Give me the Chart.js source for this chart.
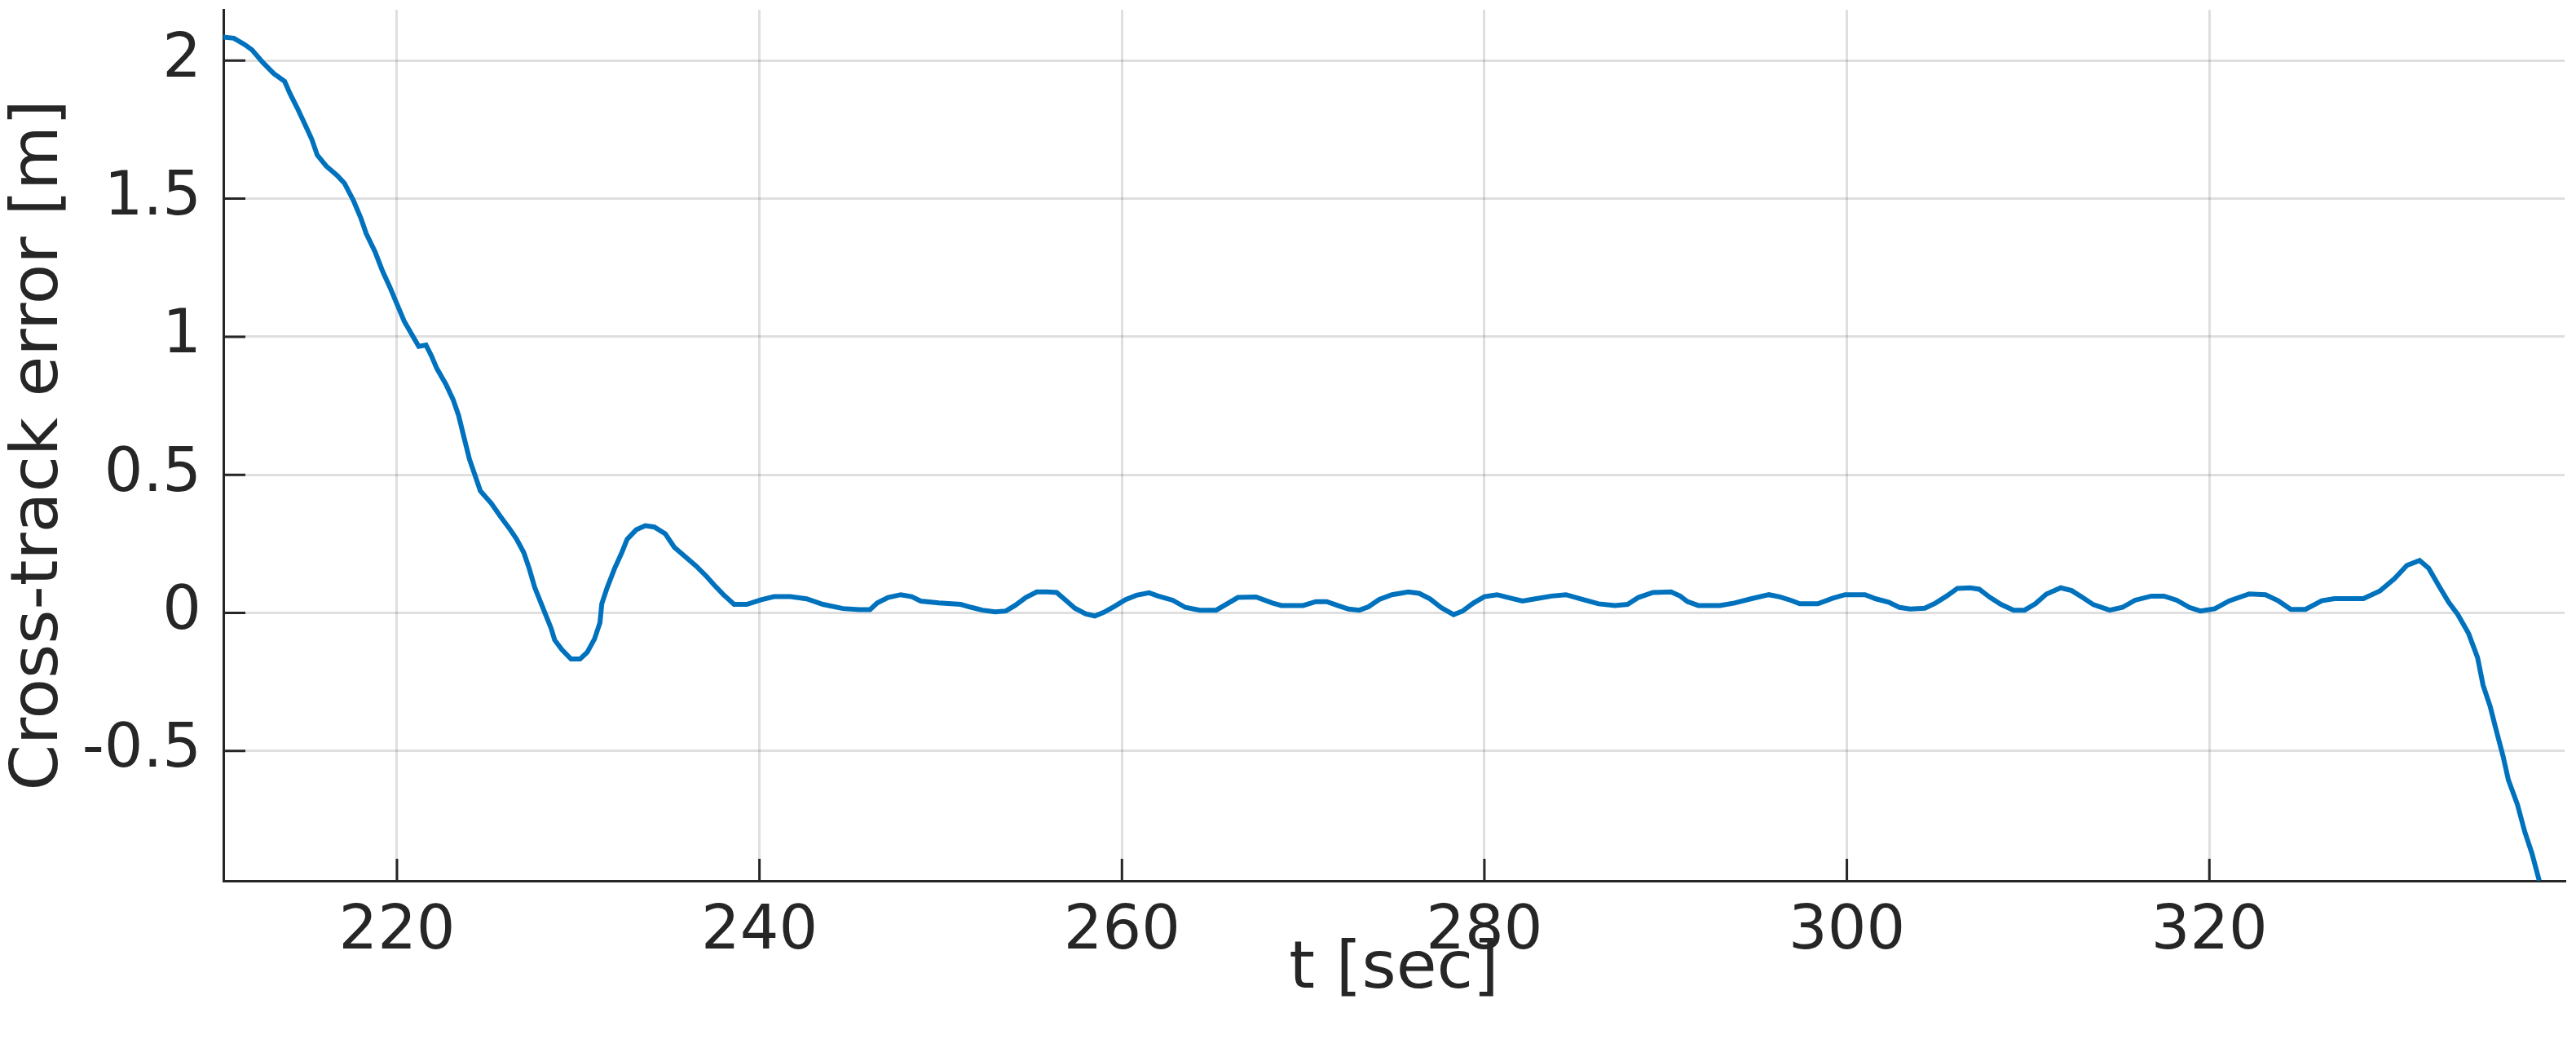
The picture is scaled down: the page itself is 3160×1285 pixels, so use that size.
<!DOCTYPE html>
<html>
<head>
<meta charset="utf-8">
<title>Cross-track error</title>
<script src="https://cdn.jsdelivr.net/npm/chart.js@4.4.1/dist/chart.umd.min.js"></script>
<style>
  html, body { margin: 0; padding: 0; background: #ffffff; }
  #wrap { width: 3160px; height: 1285px; }
</style>
</head>
<body>
<div id="wrap"><canvas id="cte" width="3160" height="1285"></canvas></div>
<script>
// time stamps [sec]
var timeSec = [
  210.4, 211.0, 211.6, 212.0, 212.6, 213.2, 213.8, 214.1, 214.5, 214.9,
  215.3, 215.6, 216.1, 216.7, 217.1, 217.6, 218.0, 218.3, 218.8, 219.2,
  219.6, 220.0, 220.4, 220.9, 221.2, 221.6, 221.9, 222.2, 222.7, 223.1,
  223.4, 223.7, 224.0, 224.3, 224.6, 225.2, 225.7, 226.2, 226.6, 227.0,
  227.3, 227.6, 227.9, 228.2, 228.5, 228.7, 229.1, 229.6, 230.1, 230.5,
  230.9, 231.2, 231.3, 231.6, 232.0, 232.4, 232.7, 233.2, 233.7, 234.2,
  234.8, 235.3, 235.9, 236.5, 237.1, 237.5, 238.0, 238.6, 239.3, 240.1,
  240.8, 241.7, 242.6, 243.5, 244.6, 245.5, 246.1, 246.5, 247.1, 247.8,
  248.4, 248.9, 249.9, 251.1, 251.7, 252.3, 253.0, 253.6, 254.1, 254.7,
  255.3, 255.9, 256.4, 256.9, 257.4, 258.0, 258.5, 259.0, 259.6, 260.2,
  260.8, 261.5, 262.0, 262.8, 263.5, 264.3, 265.2, 265.8, 266.4, 267.4,
  268.3, 268.8, 270.0, 270.7, 271.3, 271.9, 272.5, 273.1, 273.6, 274.2,
  274.9, 275.8, 276.4, 277.0, 277.6, 278.3, 278.8, 279.4, 280.0, 280.7,
  281.3, 282.1, 282.8, 283.7, 284.5, 285.4, 286.3, 287.2, 287.9, 288.5,
  289.3, 290.3, 290.8, 291.2, 291.8, 293.0, 293.8, 294.7, 295.7, 296.3,
  296.9, 297.4, 298.4, 299.2, 299.9, 301.0, 301.6, 302.3, 302.9, 303.5,
  304.3, 304.9, 305.5, 306.1, 306.8, 307.3, 307.9, 308.5, 309.2, 309.8,
  310.4, 311.0, 311.8, 312.4, 313.0, 313.6, 314.5, 315.2, 315.9, 316.8,
  317.5, 318.2, 318.9, 319.5, 320.3, 321.1, 322.2, 323.1, 323.8, 324.5,
  325.3, 326.2, 326.9, 328.5, 329.4, 330.2, 330.9, 331.6, 332.1, 332.7,
  333.2, 333.7, 334.3, 334.8, 335.1, 335.5, 335.8, 336.2, 336.5, 337.0,
  337.4, 337.8, 338.2
];

// cross-track error [m]
var crossTrackErr = [
  2.085, 2.081, 2.058, 2.039, 1.993, 1.953, 1.925, 1.880, 1.828, 1.772,
  1.715, 1.658, 1.618, 1.584, 1.556, 1.493, 1.431, 1.374, 1.306, 1.238,
  1.181, 1.118, 1.056, 0.999, 0.965, 0.970, 0.931, 0.885, 0.828, 0.772,
  0.715, 0.635, 0.556, 0.499, 0.442, 0.397, 0.350, 0.306, 0.267, 0.218,
  0.160, 0.092, 0.043, -0.006, -0.055, -0.098, -0.133, -0.167, -0.167, -0.142,
  -0.094, -0.035, 0.033, 0.092, 0.160, 0.218, 0.267, 0.301, 0.316, 0.311,
  0.287, 0.238, 0.204, 0.170, 0.131, 0.101, 0.067, 0.031, 0.031, 0.048,
  0.059, 0.059, 0.051, 0.031, 0.016, 0.012, 0.012, 0.036, 0.056, 0.066,
  0.059, 0.043, 0.036, 0.031, 0.020, 0.010, 0.004, 0.007, 0.027, 0.056,
  0.076, 0.076, 0.074, 0.046, 0.017, -0.003, -0.011, 0.002, 0.024, 0.048,
  0.064, 0.073, 0.061, 0.046, 0.020, 0.010, 0.010, 0.033, 0.056, 0.058,
  0.036, 0.027, 0.027, 0.041, 0.041, 0.027, 0.014, 0.010, 0.022, 0.049,
  0.066, 0.076, 0.071, 0.051, 0.020, -0.006, 0.007, 0.036, 0.059, 0.066,
  0.056, 0.043, 0.051, 0.061, 0.066, 0.049, 0.033, 0.027, 0.031, 0.056,
  0.074, 0.076, 0.061, 0.041, 0.027, 0.027, 0.036, 0.051, 0.066, 0.058,
  0.046, 0.033, 0.033, 0.053, 0.066, 0.066, 0.051, 0.039, 0.020, 0.014,
  0.017, 0.036, 0.061, 0.089, 0.091, 0.086, 0.056, 0.031, 0.010, 0.010,
  0.033, 0.068, 0.091, 0.081, 0.056, 0.030, 0.010, 0.020, 0.046, 0.061,
  0.061, 0.046, 0.020, 0.007, 0.015, 0.044, 0.069, 0.066, 0.044, 0.013,
  0.013, 0.044, 0.052, 0.052, 0.079, 0.123, 0.172, 0.190, 0.162, 0.094,
  0.039, -0.005, -0.074, -0.162, -0.261, -0.340, -0.418, -0.517, -0.605, -0.694,
  -0.792, -0.871, -0.969
];

// tick positions
var xTicks = [220, 240, 260, 280, 300, 320];
var yTicks = [-0.5, 0, 0.5, 1, 1.5, 2];

var axisColor = '#262626';
var gridColor = 'rgba(38, 38, 38, 0.15)';
var fontName = "'DejaVu Sans', 'Liberation Sans', sans-serif";

// build point list for chart.js
var points = [];
for (var i = 0; i < timeSec.length; ++i)
  points.push({x: timeSec[i], y: crossTrackErr[i]});

// matlab style ticks, pointing into the axes
var innerTicks = {
  id: 'innerTicks',
  afterDraw: function(chart) {
    var ctx = chart.ctx;
    var area = chart.chartArea;
    var xs = chart.scales.x, ys = chart.scales.y;
    var len = 27;
    ctx.save();
    ctx.strokeStyle = axisColor;
    ctx.lineWidth = 3;
    ctx.beginPath();
    xTicks.forEach(function(v) {
      var px = xs.getPixelForValue(v);
      ctx.moveTo(px, area.bottom);
      ctx.lineTo(px, area.bottom - len);
    });
    yTicks.forEach(function(v) {
      var py = ys.getPixelForValue(v);
      ctx.moveTo(area.left, py);
      ctx.lineTo(area.left + len, py);
    });
    ctx.stroke();
    ctx.restore();
  }
};

// pin the axes box to the same place as the original figure
function fitX(s) {
  s.height = 205;
  s.paddingLeft = 0;
  s.paddingRight = 0;
}
function fitY(s) {
  s.width = 274;
  s.paddingTop = 0;
  s.paddingBottom = 0;
}

var ctx = document.getElementById('cte');
new Chart(ctx, {
  type: 'line',
  data: {
    datasets: [{
      label: 'Cross-track error',
      data: points,
      borderColor: '#0072BD',
      backgroundColor: '#0072BD',
      borderWidth: 6,
      pointRadius: 0,
      tension: 0,
      fill: false
    }]
  },
  options: {
    responsive: false,
    devicePixelRatio: 1,
    animation: false,
    layout: { padding: { left: 0, top: 12, right: 14, bottom: 0 } },
    plugins: {
      legend: { display: false },
      tooltip: { enabled: false }
    },
    scales: {
      x: {
        type: 'linear',
        min: 210.42,
        max: 339.6,
        afterBuildTicks: function(s) { s.ticks = xTicks.map(function(v) { return {value: v}; }); },
        afterFit: fitX,
        grid: { color: gridColor, lineWidth: 3, drawTicks: false },
        border: { color: axisColor, width: 3 },
        ticks: {
          color: axisColor,
          font: { family: fontName, size: 75 },
          padding: 19,
          maxRotation: 0,
          autoSkip: false,
          callback: function(v) { return String(v); }
        },
        title: {
          display: true,
          text: 't [sec]',
          color: axisColor,
          font: { family: fontName, size: 81, lineHeight: 1.16 },
          padding: { top: 0, bottom: 48 }
        }
      },
      y: {
        min: -0.970,
        max: 2.184,
        afterBuildTicks: function(s) { s.ticks = yTicks.map(function(v) { return {value: v}; }); },
        afterFit: fitY,
        grid: { color: gridColor, lineWidth: 3, drawTicks: false },
        border: { color: axisColor, width: 3 },
        ticks: {
          color: axisColor,
          font: { family: fontName, size: 75 },
          padding: 27,
          autoSkip: false,
          callback: function(v) { return String(v); }
        },
        title: {
          display: true,
          text: 'Cross-track error [m]',
          color: axisColor,
          font: { family: fontName, size: 81, lineHeight: 1.16 },
          padding: { top: 2, bottom: 0 }
        }
      }
    }
  },
  plugins: [innerTicks]
});
</script>
</body>
</html>
